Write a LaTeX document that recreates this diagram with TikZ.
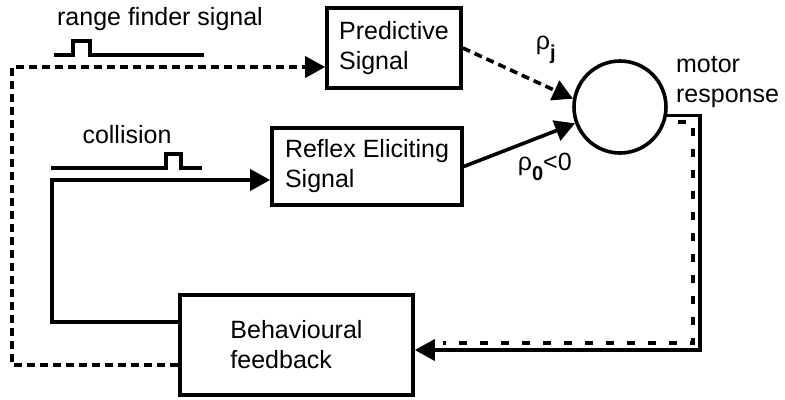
\documentclass[tikz,border=0pt]{standalone}
\usepackage{fontspec}
\setmainfont{Liberation Sans}
\usetikzlibrary{arrows.meta}
\newcommand{\lowsub}[1]{{\fontsize{20bp}{20bp}\selectfont\bfseries\raisebox{-10bp}{#1}}}
\begin{document}
\begin{tikzpicture}[x=1bp,y=-1bp,line width=3.6bp,
  font=\fontsize{25bp}{30bp}\selectfont,
  box/.style={draw,rectangle,inner sep=0pt,align=left},
  tip/.style={-{Triangle[length=20bp,width=21bp]}},
  dsh/.style={dash pattern=on 8bp off 5bp},
  fine/.style={dash pattern=on 8bp off 13bp}]
\useasboundingbox (0,0) rectangle (785,399);
\node [box,minimum width=134bp,minimum height=80bp] (pred) at (394,48) {Predictive\\Signal};
\node [box,minimum width=190bp,minimum height=77bp] (reflex) at (367,166.5) {Reflex Eliciting\\Signal};
\node [box,minimum width=233bp,minimum height=100bp] (beh) at (296.5,345) {Behavioural\\feedback};
\node [circle,draw,minimum size=92bp,inner sep=0pt] (mot) at (620,107) {};
\node [anchor=base] (rng) at (160,25) {range finder signal};
\node [anchor=base] (coll) at (127,143) {collision};
\node [anchor=base west,inner sep=0pt] (rj) at (534,49) {ρ\lowsub{j}};
\node [anchor=base west,inner sep=0pt] (r0) at (516,170) {ρ\lowsub{0}<0};
\node [align=left,anchor=west] (resp) at (671,82) {motor\\response};
\coordinate (fbR) at (700,350);
\coordinate (fbD) at (693,343);
\coordinate (fbS) at (678,122);
\coordinate (fbE) at (443,343);
\coordinate (lpS) at (52,180);
\coordinate (lpD) at (12,67);
\draw [dsh,tip] (pred.east) -- (mot.170);
\draw [tip] (reflex.east) -- (mot.200);
\draw [tip] (mot.-10) -| (fbR) -- (beh.east |- fbR);
\draw [fine] (fbS) -| (fbD) -- (fbE);
\draw [tip] ([yshift=23bp]beh.west) -| (lpS) -- (reflex.west |- lpS);
\draw [dsh,tip] ([yshift=-20bp]beh.west) -| (lpD) -- (pred.west |- lpD);
\draw (54,55) -- (73,55) -- (73,41) -- (90,41) -- (90,55) -- (204,55);
\draw (51,168) -- (166,168) -- (166,154) -- (181,154) -- (181,168) -- (202,168);
\end{tikzpicture}
\end{document}
